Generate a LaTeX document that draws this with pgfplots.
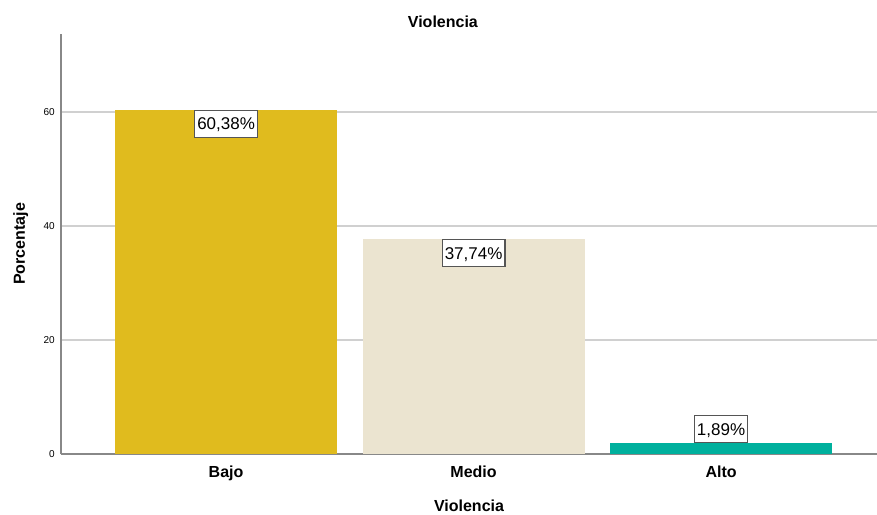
\documentclass[border=0pt]{standalone}
\usepackage{fontspec}
\setmainfont{Liberation Sans}
\usepackage{pgfplots}
\pgfplotsset{compat=1.18}
\definecolor{bajo}{HTML}{E0BB1E}
\definecolor{medio}{HTML}{EBE4D0}
\definecolor{alto}{HTML}{00B09D}
\definecolor{axisgray}{HTML}{888888}
\definecolor{gridgray}{HTML}{D0D0D0}
\definecolor{boxgray}{HTML}{555555}
\begin{document}
\begin{tikzpicture}
\useasboundingbox (0,0) rectangle (877pt,514pt);
\begin{axis}[
  at={(61pt,60pt)}, anchor=south west,
  scale only axis, width=816pt, height=420pt,
  xmin=-0.667, xmax=2.63, ymin=0, ymax=73.7,
  axis x line=bottom, axis y line=left,
  axis line style={draw=axisgray, line width=1.3pt, -},
  xtick={0,1,2}, xticklabels={Bajo,Medio,Alto},
  ytick={0,20,40,60},
  major tick length=0pt,
  ymajorgrids, grid style={draw=gridgray, line width=1.3pt},
  /pgf/number format/assume math mode=true,
  xticklabel style={font=\fontsize{16}{18}\selectfont\bfseries, anchor=base, yshift=-23pt},
  yticklabel style={font=\fontsize{10}{12}\selectfont, anchor=east, inner sep=0pt, xshift=-6pt},
  title={Violencia},
  title style={font=\fontsize{16}{18}\selectfont\bfseries, at={(axis description cs:0.468,1)}, anchor=base, yshift=0pt},
  xlabel={Violencia},
  xlabel style={font=\fontsize{16}{18}\selectfont\bfseries, at={(axis description cs:0.5,0)}, anchor=base, yshift=-57pt},
  ylabel={Porcentaje},
  ylabel style={font=\fontsize{16}{18}\selectfont\bfseries, at={(axis description cs:0,0.5)}, anchor=base, yshift=36pt},
  every node near coord/.append style={font=\fontsize{17}{19}\selectfont, text=black, draw=boxgray, fill=white, line width=1.2pt, inner xsep=2.5pt, inner ysep=7.5pt, text height=12pt, text depth=0pt},
  nodes near coords={\pgfmathprintnumber[fixed,fixed zerofill,precision=2,use comma,assume math mode=true]{\pgfplotspointmeta}\%},
]
\addplot[ybar, bar width=222pt, bar shift=0pt, fill=bajo, draw=none,
  every node near coord/.append style={anchor=north}] coordinates {(0,60.38)};
\addplot[ybar, bar width=222pt, bar shift=0pt, fill=medio, draw=none,
  every node near coord/.append style={anchor=north}] coordinates {(1,37.74)};
\addplot[ybar, bar width=222pt, bar shift=0pt, fill=alto, draw=none,
  every node near coord/.append style={anchor=south}] coordinates {(2,1.89)};
\end{axis}
\end{tikzpicture}
\end{document}
